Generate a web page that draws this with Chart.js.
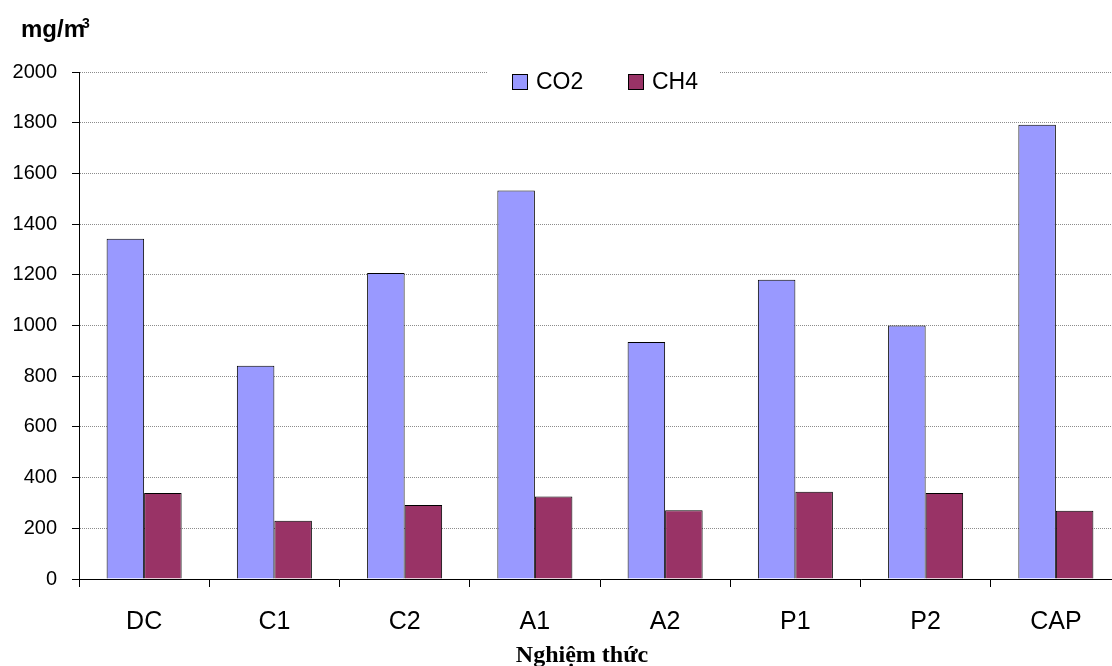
<!DOCTYPE html>
<html>
<head>
<meta charset="utf-8">
<script src="https://cdn.jsdelivr.net/npm/chart.js@4"></script>
<style>
  html, body { margin: 0; padding: 0; background: #fff; overflow: hidden; }
  #wrap { width: 1125px; height: 666px; }
</style>
</head>
<body>
<div id="wrap"><canvas id="chart" width="1125" height="666"></canvas></div>
<script>
// data
var categories = ['DC', 'C1', 'C2', 'A1', 'A2', 'P1', 'P2', 'CAP'];
var co2Values = [1342, 841, 1207, 1533, 935, 1180, 1000, 1792];
var ch4Values = [339, 230, 292, 325, 271, 344, 339, 269];
var seriesNames = ['CO2', 'CH4'];
var yTitle = 'mg/m';
var xTitle = 'Nghiệm thức';

var sans = 'Liberation Sans, Arial, sans-serif';
var serif = 'Liberation Serif, Times New Roman, serif';

// legend and axis titles drawn by hand, legend sits on top of the 2000 line
var extras = {
    id: 'extras',
    afterDraw: function (chart) {
        var ctx = chart.ctx;
        var area = chart.chartArea;
        var cx = (area.left + area.right) / 2;
        ctx.save();

        // legend
        ctx.fillStyle = '#fff';
        ctx.fillRect(cx - 112, area.top - 10, 232, 38);
        ctx.font = '23px ' + sans;
        ctx.textBaseline = 'middle';
        var x = cx - 88;
        var y = area.top + 10;
        chart.data.datasets.forEach(function (ds) {
            ctx.fillStyle = ds.backgroundColor;
            ctx.fillRect(x, y - 8, 16, 16);
            ctx.strokeStyle = '#000';
            ctx.lineWidth = 1;
            ctx.strokeRect(x + 0.5, y - 7.5, 15, 15);
            ctx.fillStyle = '#000';
            ctx.textAlign = 'left';
            ctx.fillText(ds.label, x + 24, y + 1);
            x += 116;
        });

        // y unit on top
        ctx.font = 'bold 24px ' + sans;
        ctx.textBaseline = 'alphabetic';
        ctx.fillText(yTitle, 21, 37);
        var w = ctx.measureText(yTitle).width;
        ctx.font = 'bold 14px ' + sans;
        ctx.fillText('3', 21 + w - 3, 28);

        // x title
        ctx.font = 'bold 24px ' + serif;
        ctx.textAlign = 'center';
        ctx.fillText(xTitle, cx - 18, 662);
        ctx.restore();
    }
};

new Chart(document.getElementById('chart'), {
    type: 'bar',
    data: {
        labels: categories,
        datasets: [{
            label: seriesNames[0],
            data: co2Values,
            backgroundColor: '#9999ff',
            borderColor: '#000',
            borderWidth: 1
        }, {
            label: seriesNames[1],
            data: ch4Values,
            backgroundColor: '#993366',
            borderColor: '#000',
            borderWidth: 1
        }]
    },
    options: {
        responsive: false,
        animation: false,
        layout: { padding: { left: 0, right: 4, top: 72, bottom: 0 } },
        datasets: { bar: { categoryPercentage: 0.576, barPercentage: 1 } },
        plugins: {
            legend: { display: false },
            tooltip: { enabled: false }
        },
        scales: {
            x: {
                afterFit: function (scale) { scale.height = 87; },
                grid: {
                    offset: true,
                    drawOnChartArea: false,
                    color: '#000',
                    tickLength: 8
                },
                border: { color: '#000', width: 1 },
                ticks: {
                    color: '#000',
                    padding: 20,
                    font: { family: sans, size: 25 }
                }
            },
            y: {
                min: 0,
                max: 2000,
                afterFit: function (scale) { scale.width = 79; },
                grid: {
                    color: '#8c8c8c',
                    tickColor: '#000',
                    tickLength: 7
                },
                border: { color: '#000', width: 1, dash: [1, 1] },
                ticks: {
                    stepSize: 200,
                    color: '#000',
                    padding: 15,
                    font: { family: sans, size: 20 },
                    callback: function (v) { return String(v); }
                }
            }
        }
    },
    plugins: [extras]
});
</script>
</body>
</html>
